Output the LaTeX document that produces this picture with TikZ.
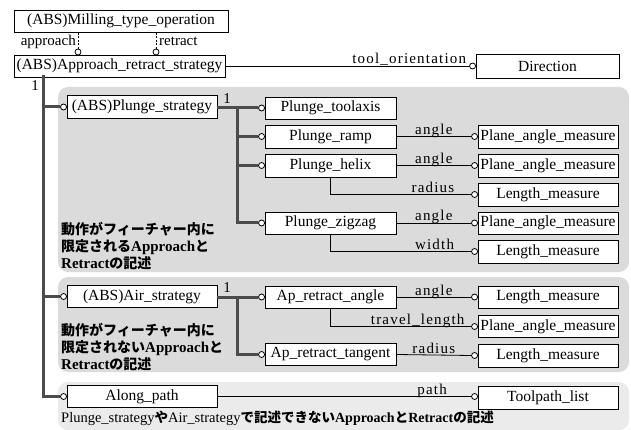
\documentclass[tikz,border=0pt]{standalone}
\usepackage{fontspec}
\setmainfont{Liberation Serif}
\newfontfamily\jpfont{Noto Sans CJK JP}
\newfontfamily\lblfont[LetterSpace=8]{Liberation Serif}
\newcommand\jlat[1]{{\rmfamily\bfseries\fontsize{15}{17}\selectfont #1}}
\newcommand\jlats[1]{{\rmfamily\bfseries\fontsize{14}{17}\selectfont #1}}
\newcommand\jrm[1]{{\rmfamily\mdseries\fontsize{14.5}{17}\selectfont #1}}
\begin{document}
\begin{tikzpicture}[x=1pt,y=-1pt,
  bx/.style={draw, line width=0.9pt, fill=white, minimum height=22pt, inner sep=1pt, font=\fontsize{15.5}{17}\selectfont},
  cc/.style={circle, draw, fill=white, line width=0.8pt, minimum size=6pt, inner sep=0pt},
  thk/.style={line width=3pt, draw=black!70},
  thn/.style={line width=0.8pt},
  lbl/.style={font=\lblfont\fontsize{15}{17}\selectfont, inner sep=0pt, anchor=base, yshift=2pt},
  plain/.style={font=\fontsize{15}{17}\selectfont, inner sep=0pt},
  region/.style={fill=black!14, rounded corners=10pt},
  jptxt/.style={font=\jpfont\bfseries\fontsize{14}{17}\selectfont, align=left, anchor=north west, inner sep=0pt}
]
\useasboundingbox (0,0) rectangle (631,430);
% shaded regions
\fill[region] (58,87) rectangle (629,272);
\fill[region] (58,277) rectangle (629,372);
\fill[region, fill=black!8] (58,382) rectangle (629,430);

% top boxes
\node[bx, minimum width=214pt] (mto) at (121,21) {(ABS)Milling\_type\_operation};
\node[bx, minimum width=211pt] (ars) at (119.5,66) {(ABS)Approach\_retract\_strategy};
\node[bx, minimum width=143pt, minimum height=24pt] (dir) at (547.5,66) {Direction};
\node[cc] (cA) at (78,52) {};
\node[cc] (cR) at (156,52) {};
\draw[thn, dash pattern=on 2pt off 1.5pt] (cA.north) -- (cA |- mto.south);
\draw[thn, dash pattern=on 2pt off 1.5pt] (cR.north) -- (cR |- mto.south);
\node[plain, anchor=base east] (lapp) at (76,46) {approach};
\node[plain, anchor=base west] (lret) at (159,46) {retract};
\node[cc] (cDir) at ([xshift=-3pt]dir.west) {};
\draw[thn] (ars.east) -- (cDir.west) node[lbl, pos=0.754] {tool\_orientation};

% level 1
\node[bx, minimum width=150pt, minimum height=23pt] (ps) at (142,107) {(ABS)Plunge\_strategy};
\node[bx, minimum width=150pt] (as) at (142,296.5) {(ABS)Air\_strategy};
\node[bx, minimum width=150pt] (ap) at (142,396.5) {Along\_path};
\node[cc] (cPS) at ([xshift=-3pt]ps.west) {};
\node[cc] (cAS) at ([xshift=-3pt]as.west) {};
\node[cc] (cAP) at ([xshift=-3pt]ap.west) {};
\coordinate (tA) at (43,75);
\draw[thk] (tA) |- (cAP.west);
\draw[thk] (tA |- cPS) -- (cPS.west);
\draw[thk] (tA |- cAS) -- (cAS.west);
\node[plain] (one1) at (35,86) {1};

% plunge children
\node[bx, minimum width=131pt] (pt) at (330.5,108) {Plunge\_toolaxis};
\node[bx, minimum width=131pt, minimum height=23pt] (pr) at (330.5,136.5) {Plunge\_ramp};
\node[bx, minimum width=131pt, minimum height=23pt] (ph) at (330.5,165.5) {Plunge\_helix};
\node[bx, minimum width=131pt] (pz) at (330.5,223) {Plunge\_zigzag};
\node[cc] (cPT) at ([xshift=-3pt]pt.west) {};
\node[cc] (cPR) at ([xshift=-3pt]pr.west) {};
\node[cc] (cPH) at ([xshift=-3pt]ph.west) {};
\node[cc] (cPZ) at ([xshift=-3pt]pz.west) {};
\coordinate (pb) at (237,108);
\draw[thk] (ps.east |- cPT) -- (cPT.west);
\draw[thk] (pb) |- (cPZ.west);
\draw[thk] (pb |- cPR) -- (cPR.west);
\draw[thk] (pb |- cPH) -- (cPH.west);
\node[plain] (one2) at (227,99) {1};

% right column (plunge)
\node[bx, minimum width=140pt, minimum height=23pt] (pa1) at (548,136.5) {Plane\_angle\_measure};
\node[bx, minimum width=140pt, minimum height=23pt] (pa2) at (548,165.5) {Plane\_angle\_measure};
\node[bx, minimum width=140pt, minimum height=23pt] (lm1) at (548,194.5) {Length\_measure};
\node[bx, minimum width=140pt] (pa3) at (548,223) {Plane\_angle\_measure};
\node[bx, minimum width=140pt, minimum height=23pt] (lm2) at (548,251.5) {Length\_measure};
\node[cc] (cPA1) at ([xshift=-3pt]pa1.west) {};
\node[cc] (cPA2) at ([xshift=-3pt]pa2.west) {};
\node[cc] (cLM1) at ([xshift=-3pt]lm1.west) {};
\node[cc] (cPA3) at ([xshift=-3pt]pa3.west) {};
\node[cc] (cLM2) at ([xshift=-3pt]lm2.west) {};
\draw[thn] (pr.east) -- (cPA1.west) node[lbl, pos=0.5] {angle};
\draw[thn] (ph.east) -- (cPA2.west) node[lbl, pos=0.5] {angle};
\draw[thn] (ph.south) |- (cLM1.west) node[lbl, pos=0.864] {radius};
\draw[thn] (pz.east) -- (cPA3.west) node[lbl, pos=0.5] {angle};
\draw[thn] (pz.south) |- (cLM2.west) node[lbl, pos=0.87] {width};

\node[jptxt] (jp1) at (61,222) {動作がフィーチャー内に\\限定される\jlat{Approach}と\\\jlat{Retract}の記述};

% air children
\node[bx, minimum width=131pt] (ra) at (330.5,297) {Ap\_retract\_angle};
\node[bx, minimum width=131pt] (rt) at (330.5,354.5) {Ap\_retract\_tangent};
\node[cc] (cRA) at ([xshift=-3pt]ra.west) {};
\node[cc] (cRT) at ([xshift=-3pt]rt.west) {};
\coordinate (ab) at (237,297);
\draw[thk] (as.east |- cRA) -- (cRA.west);
\draw[thk] (ab) |- (cRT.west);
\node[plain] (one3) at (227,288) {1};

\node[bx, minimum width=140pt] (lm3) at (548,297) {Length\_measure};
\node[bx, minimum width=140pt] (pa4) at (548,326.5) {Plane\_angle\_measure};
\node[bx, minimum width=140pt, minimum height=23pt] (lm4) at (548,355.5) {Length\_measure};
\node[cc] (cLM3) at ([xshift=-3pt]lm3.west) {};
\node[cc] (cPA4) at ([xshift=-3pt]pa4.west) {};
\node[cc] (cLM4) at ([xshift=-3pt]lm4.west) {};
\draw[thn] (ra.east) -- (cLM3.west) node[lbl, pos=0.5] {angle};
\draw[thn] (ra.south) |- (cPA4.west) node[lbl, pos=0.81] {travel\_length};
\draw[thn] (rt.east) -- (cLM4.west) node[lbl, pos=0.5] {radius};

\node[jptxt] (jp2) at (61,323) {動作がフィーチャー内に\\限定されない\jlat{Approach}と\\\jlat{Retract}の記述};

% along path
\node[bx, minimum width=140pt, minimum height=23pt] (tl) at (548,397.5) {Toolpath\_list};
\node[cc] (cTL) at ([xshift=-3pt]tl.west |- ap.east) {};
\draw[thn] (ap.east) -- (cTL.west) node[lbl, pos=0.846] {path};
\node[jptxt, font=\jpfont\bfseries\fontsize{13.5}{17}\selectfont] (jp3) at (61,411) {\jrm{Plunge\_strategy}や\jrm{Air\_strategy}で記述できない\jlats{Approach}と\jlats{Retract}の記述};
\end{tikzpicture}
\end{document}
